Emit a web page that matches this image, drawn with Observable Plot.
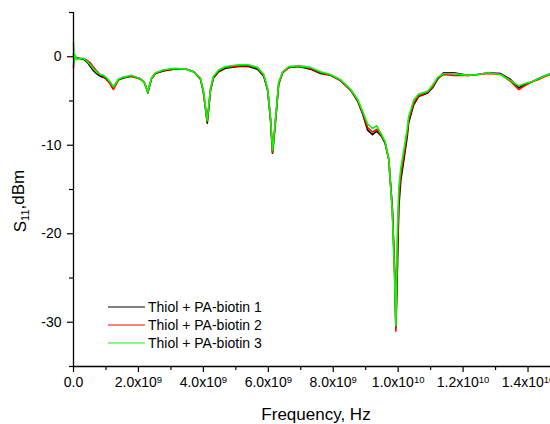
<!DOCTYPE html>
<html><head><meta charset="utf-8">
<script src="https://cdn.jsdelivr.net/npm/d3@7"></script>
<script src="https://cdn.jsdelivr.net/npm/@observablehq/plot@0.6"></script>
<style>
html,body{margin:0;padding:0;background:#fff;overflow:hidden;width:550px;height:424px;}
#chart svg{display:block;}
</style></head><body><div id="chart"></div>
<script>
// Frequency in GHz (x 1e9 Hz)
const freqGHz = [0.00,0.02,0.05,0.10,0.20,0.31,0.42,0.52,0.62,0.71,0.82,0.92,1.00,1.08,1.16,1.23,1.30,1.39,1.54,1.79,
 2.06,2.18,2.25,2.29,2.33,2.40,2.52,2.77,3.08,3.48,3.70,3.91,4.00,4.07,4.12,4.17,4.22,4.31,4.47,4.68,
 5.08,5.39,5.67,5.86,5.98,6.07,6.13,6.19,6.26,6.32,6.44,6.63,6.94,7.30,7.61,7.92,8.23,8.54,8.75,8.91,
 9.06,9.21,9.34,9.49,9.60,9.71,9.82,9.89,9.93,9.97,10.02,10.08,10.18,10.28,10.32,10.48,10.63,10.91,11.06,11.22,
 11.40,11.71,12.14,12.45,12.79,13.16,13.47,13.71,13.93,14.14,14.30,14.48,14.70,14.90];

// S11 (dBm), series 1 (black)
const series1 = [0.3,-0.3,0.0,-0.2,-0.2,-0.3,-0.6,-1.1,-1.6,-1.9,-2.2,-2.3,-2.5,-2.8,-3.1,-3.5,-3.1,-2.6,-2.4,-2.2,
 -2.5,-2.9,-3.6,-4.1,-3.5,-2.5,-1.9,-1.6,-1.4,-1.4,-1.7,-2.5,-4.0,-6.0,-7.5,-5.7,-3.8,-2.4,-1.7,-1.3,
 -1.1,-1.1,-1.4,-2.2,-3.8,-7.2,-10.9,-8.6,-5.7,-3.1,-1.8,-1.2,-1.1,-1.4,-1.9,-2.1,-2.7,-3.8,-5.0,-6.5,
 -8.3,-8.8,-8.4,-9.0,-9.8,-11.6,-17.0,-24.0,-30.6,-25.0,-17.0,-14.0,-11.5,-9.0,-7.5,-5.4,-4.5,-4.1,-3.5,-2.5,
 -1.8,-1.8,-2.1,-2.0,-1.8,-1.9,-2.6,-3.5,-3.1,-2.8,-2.5,-2.2,-1.9,-1.8];

// S11 (dBm), series 2 (red)
const series2 = [-1.2,0.0,-0.2,-0.1,-0.2,-0.2,-0.4,-0.7,-1.2,-1.6,-2.0,-2.2,-2.4,-2.8,-3.3,-3.7,-3.2,-2.6,-2.3,-2.2,
 -2.5,-2.9,-3.6,-4.0,-3.4,-2.5,-1.9,-1.5,-1.4,-1.4,-1.7,-2.5,-3.9,-5.9,-7.3,-5.5,-3.7,-2.3,-1.6,-1.2,
 -1.0,-1.0,-1.3,-2.1,-3.7,-7.1,-10.8,-8.5,-5.6,-3.0,-1.8,-1.2,-1.1,-1.3,-1.8,-2.1,-2.7,-3.8,-4.9,-6.4,
 -8.0,-8.5,-8.2,-8.9,-9.7,-11.6,-17.3,-24.5,-31.0,-23.0,-16.0,-13.4,-11.0,-8.6,-7.2,-5.2,-4.4,-4.0,-3.4,-2.4,
 -2.0,-2.1,-2.1,-2.0,-1.9,-2.0,-2.8,-3.7,-3.2,-2.8,-2.6,-2.3,-2.0,-1.8];

// S11 (dBm), series 3 (green)
const series3 = [1.6,-0.6,0.2,-0.3,-0.2,-0.2,-0.5,-0.9,-1.4,-1.7,-2.0,-2.1,-2.3,-2.6,-3.0,-3.4,-3.0,-2.5,-2.3,-2.1,
 -2.5,-2.9,-3.6,-4.0,-3.4,-2.4,-1.8,-1.5,-1.3,-1.4,-1.7,-2.4,-3.8,-5.8,-7.2,-5.4,-3.6,-2.2,-1.5,-1.1,
 -0.9,-0.9,-1.2,-2.0,-3.6,-7.0,-10.6,-8.4,-5.5,-2.9,-1.7,-1.1,-1.0,-1.2,-1.7,-2.0,-2.6,-3.7,-4.8,-6.2,
 -7.6,-8.1,-7.8,-8.8,-9.6,-11.5,-17.5,-25.0,-30.4,-20.5,-14.8,-12.6,-10.4,-8.1,-6.8,-4.9,-4.2,-3.9,-3.2,-2.3,
 -1.9,-1.9,-2.1,-2.0,-1.8,-2.0,-2.7,-3.3,-3.0,-2.8,-2.5,-2.2,-1.9,-1.8];

const seriesNames = ["Thiol + PA-biotin 1","Thiol + PA-biotin 2","Thiol + PA-biotin 3"];
const seriesColors = ["#000000","#ff0000","#00ff00"];
const xMajorTicks = [0,2e9,4e9,6e9,8e9,1e10,1.2e10,1.4e10];
const xMinorTicks = [1e9,3e9,5e9,7e9,9e9,1.1e10,1.3e10,1.5e10];
const yMajorTicks = [0,-10,-20,-30];
const yMinorTicks = [5,-5,-15,-25,-35];
const xTitle = "Frequency, Hz";

const rows = [];
[series1,series2,series3].forEach((vals,k)=>vals.forEach((v,i)=>rows.push({f:freqGHz[i]*1e9, v, s:seriesNames[k]})));

function fmtX(d){
  if (d === 0) return "0.0";
  const e = Math.floor(Math.log10(d) + 1e-9);
  const m = d / Math.pow(10, e);
  return m.toFixed(1) + "x10^" + e;
}

const font = "'Liberation Sans', Arial, Helvetica, sans-serif";
const plot = Plot.plot({
  width: 560, height: 424,
  marginLeft: 73, marginRight: 0, marginTop: 12, marginBottom: 58,
  style: {fontFamily: font, fontSize: "14px", color: "#000", background: "#fff", maxWidth: "none", overflow: "visible"},
  x: {domain: [0, 1.5e10]},
  y: {domain: [-35, 5]},
  color: {domain: seriesNames, range: seriesColors},
  marks: [
    Plot.line(rows, {x: "f", y: "v", z: "s", stroke: "s", strokeWidth: 1.6}),
    Plot.ruleX([0], {strokeWidth: 1.3}),
    Plot.ruleY([-35], {strokeWidth: 1.3}),
    Plot.axisX({ticks: xMajorTicks, tickSize: 6, tickPadding: 5, tickFormat: fmtX, label: null, strokeWidth: 1.2, fontSize: 14}),
    Plot.axisX({ticks: xMinorTicks, tickSize: 4, tickFormat: () => "", label: null, strokeWidth: 1.2}),
    Plot.axisY({ticks: yMajorTicks, tickSize: 6, tickPadding: 6, tickFormat: d => String(d), label: null, strokeWidth: 1.2, fontSize: 14}),
    Plot.axisY({ticks: yMinorTicks, tickSize: 4, tickFormat: () => "", label: null, strokeWidth: 1.2})
  ]
});

const svg = d3.select(plot);
// superscript exponents on x tick labels
svg.selectAll('g[aria-label="x-axis tick label"] text').each(function(){
  const t = this.textContent;
  const i = t.indexOf("^");
  if (i < 0) return;
  const el = d3.select(this);
  el.text(null);
  el.append("tspan").text(t.slice(0, i));
  el.append("tspan").attr("dy", "-0.45em").attr("font-size", "9.5px").text(t.slice(i + 1));
});

// axis titles
svg.append("text").attr("x", 316).attr("y", 420).attr("text-anchor", "middle")
  .attr("font-family", font).attr("font-size", "17px").attr("fill", "#000").text(xTitle);
const yt = svg.append("text").attr("transform", "translate(26,201) rotate(-90)").attr("text-anchor", "middle")
  .attr("font-family", font).attr("font-size", "17px").attr("fill", "#000");
yt.append("tspan").text("S");
yt.append("tspan").attr("dy", "0.3em").attr("font-size", "11px").text("11");
yt.append("tspan").attr("dy", "-0.3em").text(",dBm");

// legend
const lg = svg.append("g").attr("font-family", font).attr("font-size", "14px").attr("text-anchor", "start");
seriesNames.forEach((name, k) => {
  const y = 307 + 18 * k;
  lg.append("line").attr("x1", 108).attr("x2", 145).attr("y1", y).attr("y2", y)
    .attr("stroke", seriesColors[k]).attr("stroke-width", 1.2);
  lg.append("text").attr("x", 148).attr("y", y + 5).attr("text-anchor", "start").attr("fill", "#000").text(name);
});

document.getElementById("chart").appendChild(plot);
</script></body></html>
